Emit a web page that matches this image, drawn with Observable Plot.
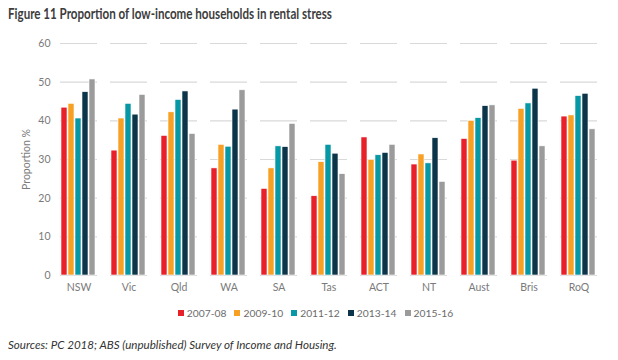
<!DOCTYPE html>
<html><head><meta charset="utf-8">
<script src="https://cdn.jsdelivr.net/npm/d3@7"></script>
<script src="https://cdn.jsdelivr.net/npm/@observablehq/plot@0.6"></script>
<style>
body{margin:0;background:#fff;font-family:Lato,"Open Sans",sans-serif;width:618px;height:360px;overflow:hidden}
#title{height:30px;line-height:26px;padding-left:8px;white-space:nowrap}
#title span{display:inline-block;font-size:14.5px;font-weight:bold;color:#3d3d3d;transform:scaleX(0.8);transform-origin:left center}
#legend{height:22px;display:flex;justify-content:center;align-items:center;font-size:10.3px;color:#6b6b6b;padding-left:13px}
#legend span.item{display:inline-flex;align-items:center;margin:0 4px}
#legend span.sw{display:inline-block;width:6px;height:6px;margin-right:3px}
#caption{margin-top:14px;padding-left:8px;font-size:11.6px;font-style:italic;color:#333}
</style></head>
<body>
<div id="title"><span>Figure 11 Proportion of low-income households in rental stress</span></div>
<div id="chart"></div>
<div id="legend"></div>
<div id="caption">Sources: PC 2018; ABS (unpublished) Survey of Income and Housing.</div>
<script>
const regions = ["NSW","Vic","Qld","WA","SA","Tas","ACT","NT","Aust","Bris","RoQ"];
const years = ["2007-08","2009-10","2011-12","2013-14","2015-16"];
const colors = ["#E8202A","#F7A023","#0798A6","#0C3549","#9B9B9B"];
const v0708 = [43.4,32.3,36.1,27.7,22.4,20.5,35.7,28.7,35.3,29.7,41.1];
const v0910 = [44.4,40.6,42.2,33.8,27.7,29.3,29.9,31.3,40.0,43.1,41.4];
const v1112 = [40.6,44.4,45.4,33.3,33.4,33.8,31.1,29.0,40.7,44.5,46.4];
const v1314 = [47.4,41.6,47.6,42.9,33.2,31.5,31.7,35.5,43.8,48.3,47.0];
const v1516 = [50.7,46.7,36.6,47.9,39.2,26.2,33.8,24.2,44.0,33.4,37.8];
const yTicks = [0,10,20,30,40,50,60];

const series = [v0708,v0910,v1112,v1314,v1516];
const data = [];
regions.forEach((r,i)=>years.forEach((y,j)=>data.push({region:r, year:y, value:series[j][i]})));

const chart = Plot.plot({
  width: 618, height: 272,
  marginLeft: 55, marginRight: 16, marginTop: 13, marginBottom: 27,
  style: {fontFamily: "Lato, 'Open Sans', sans-serif", fontSize: "10.5px", color: "#7a7a7a"},
  fx: {domain: regions, padding: 0.27, label: null, axis: "bottom", tickSize: 0, tickPadding: 8},
  x: {domain: years, padding: 0.12, axis: null},
  y: {domain: [0,60], ticks: yTicks, label: "Proportion %", labelAnchor: "center", labelArrow: "none", labelOffset: 38, tickSize: 0, tickPadding: 10},
  color: {domain: years, range: colors},
  marks: [
    Plot.gridY(yTicks, {stroke: "#d9d9d9", strokeOpacity: 1, strokeWidth: 1.2}),
    Plot.barY(data, {fx: "region", x: "year", y: "value", fill: "year", stroke: "#fff", strokeWidth: 0.6})
  ]
});
document.getElementById("chart").appendChild(chart);

const lg = document.getElementById("legend");
years.forEach((y,j)=>{
  const it = document.createElement("span"); it.className="item";
  const sw = document.createElement("span"); sw.className="sw"; sw.style.background=colors[j];
  it.appendChild(sw); it.appendChild(document.createTextNode(y)); lg.appendChild(it);
});
</script>
</body></html>
